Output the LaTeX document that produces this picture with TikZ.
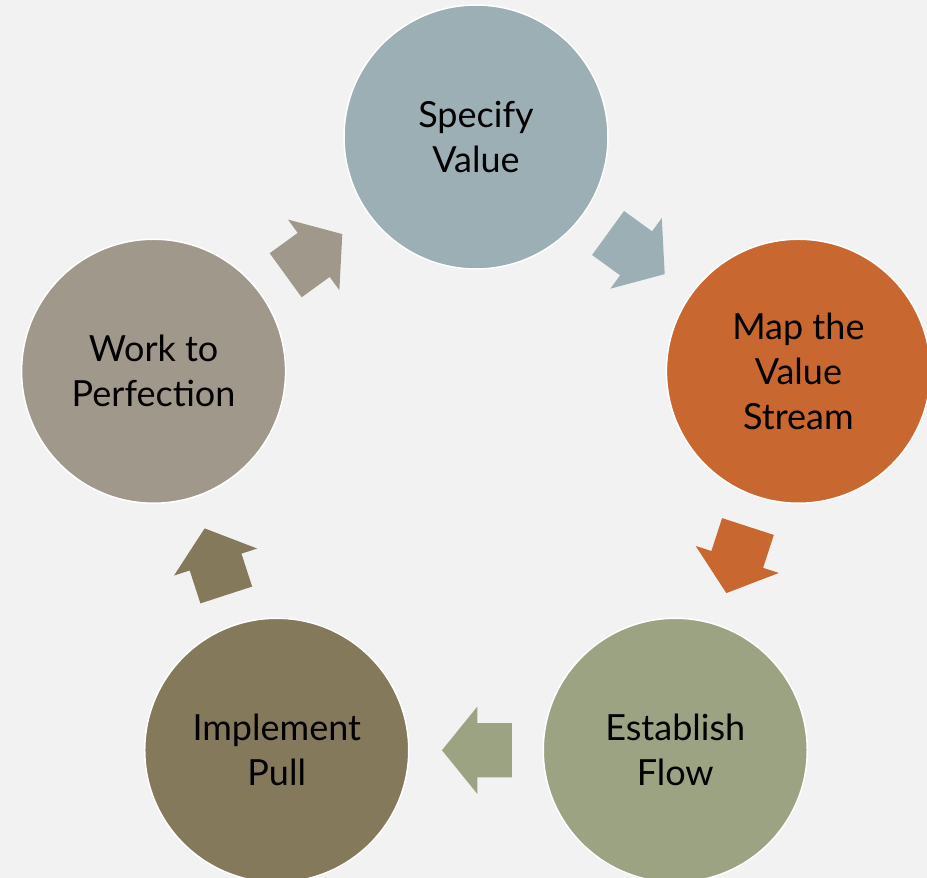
\documentclass[tikz,border=0pt]{standalone}
\usepackage{fontspec}
\setmainfont{Lato}
\usetikzlibrary{calc,shapes.arrows}

\definecolor{pagegray}{RGB}{242,242,242}
\definecolor{specifyblue}{RGB}{155,175,181}
\definecolor{maporange}{RGB}{200,103,47}
\definecolor{flowgreen}{RGB}{156,163,131}
\definecolor{pullbrown}{RGB}{133,121,92}
\definecolor{perfectgray}{RGB}{161,152,140}

\begin{document}
\begin{tikzpicture}[x=1pt,y=1pt,
    stage/.style={circle, draw=white, line width=1.5pt, minimum size=264pt,
        inner sep=0pt, align=center, font=\fontsize{36}{45}\selectfont},
    flowarrow/.style={single arrow, inner xsep=0pt, inner ysep=27pt,
        minimum height=70pt, single arrow head extend=16.5pt,
        single arrow tip angle=102, single arrow head indent=0pt}]

    % Page and background
    \useasboundingbox (-476,-402) rectangle (451,476);
    \fill[pagegray] (-476,-402) rectangle (451,476);

    % Centre of the cycle
    \coordinate (O) at (0,0);

    % The five stages, clockwise from the top
    \node[stage, fill=specifyblue] (specify) at (90:339) {Specify\\Value};
    \node[stage, fill=maporange] (map) at (18:339) {Map the\\Value\\Stream};
    \node[stage, fill=flowgreen] (flow) at (-54:339) {Establish\\Flow};
    \node[stage, fill=pullbrown] (pull) at (-126:339) {Implement\\Pull};
    \node[stage, fill=perfectgray] (perfect) at (162:339) {Work to\\Perfection};

    % Block arrows halfway between the stages (pulled back a little,
    % since the arrow's centre anchor sits nearer its tip)
    \node[flowarrow, fill=specifyblue, rotate=-36] (specifytomap) at ($(specify)!.5!(map)!12pt!(specify)$) {};
    \node[flowarrow, fill=maporange, rotate=-108] (maptoflow) at ($(map)!.5!(flow)!12pt!(map)$) {};
    \node[flowarrow, fill=flowgreen, rotate=180] (flowtopull) at ($(flow)!.5!(pull)!12pt!(flow)$) {};
    \node[flowarrow, fill=pullbrown, rotate=108] (pulltoperfect) at ($(pull)!.5!(perfect)!12pt!(pull)$) {};
    \node[flowarrow, fill=perfectgray, rotate=36] (perfecttospecify) at ($(perfect)!.5!(specify)!12pt!(perfect)$) {};

\end{tikzpicture}
\end{document}
